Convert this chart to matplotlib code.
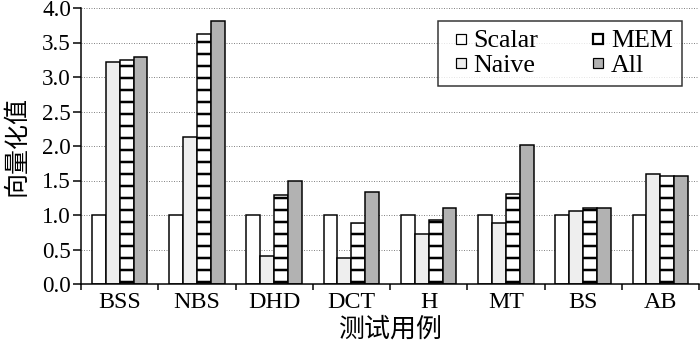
import matplotlib
matplotlib.use("Agg")
import matplotlib.pyplot as plt
from matplotlib.lines import Line2D
import numpy as np

categories = ["BSS", "NBS", "DHD", "DCT", "H", "MT", "BS", "AB"]
scalar = [1.0, 1.0, 1.0, 1.0, 1.0, 1.0, 1.0, 1.0]
naive = [3.22, 2.13, 0.40, 0.38, 0.72, 0.89, 1.06, 1.59]
mem = [3.25, 3.63, 1.29, 0.89, 0.93, 1.31, 1.10, 1.57]
all_ = [3.29, 3.81, 1.49, 1.33, 1.10, 2.01, 1.10, 1.57]
series_names = ["Scalar", "Naive", "MEM", "All"]
yticks = [0.0, 0.5, 1.0, 1.5, 2.0, 2.5, 3.0, 3.5, 4.0]

FAM = ['Liberation Serif', 'Noto Sans CJK SC']
plt.rcParams['font.family'] = FAM
plt.rcParams['hatch.linewidth'] = 2.5

DPI = 72
fig = plt.figure(figsize=(700 / DPI, 344 / DPI), dpi=DPI)
ax = fig.add_axes([81 / 700, 1 - 284 / 344, (699 - 81) / 700, (284 - 8) / 344])

x = np.arange(len(categories))
w = 0.18
faces = ["white", "#eeeeee", "white", "#b2b2b2"]
hatches = [None, None, "-", None]
data = [scalar, naive, mem, all_]
for i, (vals, name) in enumerate(zip(data, series_names)):
    ax.bar(x + (i - 1.5) * w, vals, width=w, facecolor=faces[i],
           edgecolor="black", linewidth=1.5, hatch=hatches[i], label=name,
           zorder=3)

ax.set_xlim(-0.5, len(categories) - 0.5)
ax.set_ylim(0, 4.0)
ax.set_yticks(yticks)
ax.set_yticklabels([f"{v:.1f}" for v in yticks], fontsize=23, family='Liberation Serif')
ax.set_xticks(x)
ax.set_xticklabels(categories, fontsize=24, family='Liberation Serif')
ax.tick_params(axis='x', which='major', length=0, pad=8)
ax.set_xticks(np.arange(len(categories) + 1) - 0.5, minor=True)
ax.tick_params(axis='x', which='minor', length=6, width=1.5, direction='out')
ax.tick_params(axis='y', length=8, width=1.5, direction='out', pad=2)

ax.grid(axis='y', linestyle=(0, (1, 1.5)), color='#888888', linewidth=1.0, zorder=0)
ax.set_axisbelow(True)
for s in ['top', 'right']:
    ax.spines[s].set_visible(False)
for s in ['left', 'bottom']:
    ax.spines[s].set_linewidth(1.5)
    ax.spines[s].set_zorder(5)

ax.set_ylabel("向量化值", fontsize=25, labelpad=14, family=FAM)
ax.set_xlabel("测试用例", fontsize=26, labelpad=4, family=FAM)

legend_mew = [1.2, 1.2, 2.2, 1.2]
handles = [Line2D([], [], linestyle='none', marker='s', markersize=10,
                  markerfacecolor=fc, markeredgecolor='black', markeredgewidth=mw)
           for fc, mw in zip(faces, legend_mew)]
leg = ax.legend(handles, series_names,
                ncol=2, prop={'family': 'Liberation Serif', 'size': 26}, loc='upper right',
                bbox_to_anchor=(0.973, 0.953), frameon=True, fancybox=False,
                edgecolor='black', handlelength=1.0, handleheight=0.5,
                handletextpad=0.0, columnspacing=1.8, labelspacing=0.1,
                borderpad=0.35, borderaxespad=0)
leg.get_frame().set_linewidth(1.5)

fig.savefig("out.png", dpi=DPI)
